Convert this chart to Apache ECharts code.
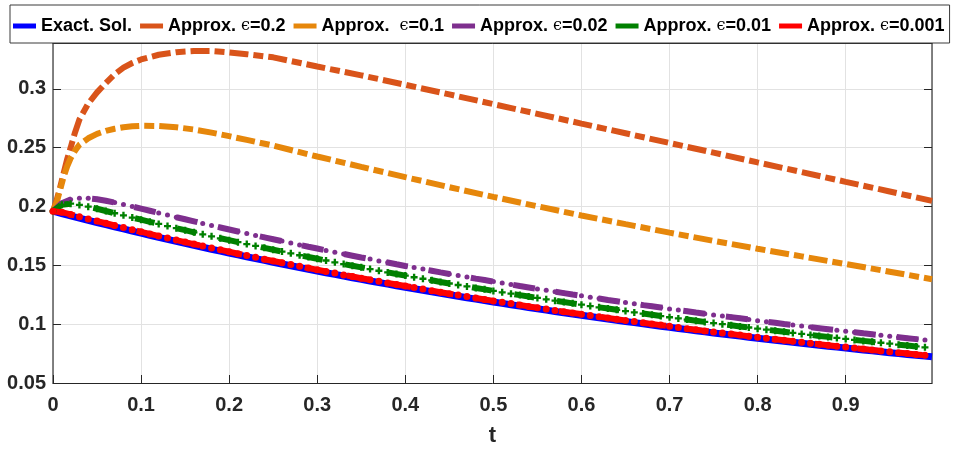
<!DOCTYPE html>
<html>
<head>
<meta charset="utf-8">
<script src="https://cdn.jsdelivr.net/npm/echarts@6/dist/echarts.min.js"></script>
<style>
  html, body { margin: 0; padding: 0; background: #ffffff; }
  #chart { width: 956px; height: 450px; }
</style>
</head>
<body>
<div id="chart"></div>
<script>
// Time grid shared by the exact solution and the small-epsilon approximations
const tGrid = [0,0.01,0.02,0.03,0.04,0.05,0.06,0.07,0.08,0.09,
  0.1,0.11,0.12,0.13,0.14,0.15,0.16,0.17,0.18,0.19,
  0.2,0.21,0.22,0.23,0.24,0.25,0.26,0.27,0.28,0.29,
  0.3,0.31,0.32,0.33,0.34,0.35,0.36,0.37,0.38,0.39,
  0.4,0.41,0.42,0.43,0.44,0.45,0.46,0.47,0.48,0.49,
  0.5,0.51,0.52,0.53,0.54,0.55,0.56,0.57,0.58,0.59,
  0.6,0.61,0.62,0.63,0.64,0.65,0.66,0.67,0.68,0.69,
  0.7,0.71,0.72,0.73,0.74,0.75,0.76,0.77,0.78,0.79,
  0.8,0.81,0.82,0.83,0.84,0.85,0.86,0.87,0.88,0.89,
  0.9,0.91,0.92,0.93,0.94,0.95,0.96,0.97,0.98,0.99,
  0.998];

const exactSol = [0.19600,0.19405,0.19212,0.19021,0.18831,0.18644,0.18459,0.18275,0.18093,0.17913,
  0.17735,0.17558,0.17384,0.17211,0.17039,0.16870,0.16702,0.16536,0.16371,0.16208,
  0.16047,0.15887,0.15729,0.15573,0.15418,0.15264,0.15113,0.14962,0.14813,0.14666,
  0.14520,0.14376,0.14233,0.14091,0.13951,0.13812,0.13674,0.13538,0.13404,0.13270,
  0.13138,0.13008,0.12878,0.12750,0.12623,0.12498,0.12373,0.12250,0.12128,0.12007,
  0.11888,0.11770,0.11653,0.11537,0.11422,0.11308,0.11196,0.11084,0.10974,0.10865,
  0.10757,0.10650,0.10544,0.10439,0.10335,0.10232,0.10130,0.10029,0.09930,0.09831,
  0.09733,0.09636,0.09540,0.09445,0.09351,0.09258,0.09166,0.09075,0.08985,0.08895,
  0.08807,0.08719,0.08632,0.08547,0.08462,0.08377,0.08294,0.08211,0.08130,0.08049,
  0.07969,0.07889,0.07811,0.07733,0.07656,0.07580,0.07505,0.07430,0.07356,0.07283,
  0.07225];

const approxEps002 = [0.1960,0.2027,0.2059,0.2071,0.2070,0.2062,0.2049,0.2034,0.2017,0.2000,
  0.1982,0.1964,0.1946,0.1928,0.1909,0.1892,0.1874,0.1856,0.1839,0.1822,
  0.1805,0.1788,0.1771,0.1754,0.1738,0.1722,0.1706,0.1690,0.1674,0.1658,
  0.1643,0.1627,0.1612,0.1597,0.1582,0.1567,0.1553,0.1538,0.1524,0.1509,
  0.1495,0.1482,0.1468,0.1454,0.1440,0.1427,0.1414,0.1401,0.1387,0.1375,
  0.1362,0.1349,0.1337,0.1324,0.1312,0.1300,0.1288,0.1276,0.1264,0.1252,
  0.1241,0.1229,0.1218,0.1206,0.1195,0.1184,0.1173,0.1162,0.1152,0.1141,
  0.1130,0.1120,0.1110,0.1099,0.1089,0.1079,0.1069,0.1060,0.1050,0.1040,
  0.1030,0.1021,0.1012,0.1002,0.0993,0.0984,0.0975,0.0966,0.0957,0.0948,
  0.0940,0.0931,0.0922,0.0914,0.0906,0.0897,0.0889,0.0881,0.0873,0.0865,
  0.0859];

const approxEps001 = [0.1960,0.2016,0.2024,0.2014,0.1999,0.1981,0.1962,0.1943,0.1925,0.1906,
  0.1888,0.1870,0.1852,0.1834,0.1816,0.1799,0.1781,0.1764,0.1747,0.1730,
  0.1714,0.1697,0.1681,0.1665,0.1649,0.1633,0.1617,0.1602,0.1586,0.1571,
  0.1556,0.1541,0.1526,0.1511,0.1497,0.1483,0.1468,0.1454,0.1440,0.1426,
  0.1413,0.1399,0.1386,0.1373,0.1359,0.1346,0.1333,0.1321,0.1308,0.1296,
  0.1283,0.1271,0.1259,0.1247,0.1235,0.1223,0.1211,0.1200,0.1188,0.1177,
  0.1166,0.1154,0.1143,0.1133,0.1122,0.1111,0.1100,0.1090,0.1080,0.1069,
  0.1059,0.1049,0.1039,0.1029,0.1019,0.1009,0.1000,0.0990,0.0981,0.0972,
  0.0962,0.0953,0.0944,0.0935,0.0926,0.0917,0.0909,0.0900,0.0892,0.0883,
  0.0875,0.0866,0.0858,0.0850,0.0842,0.0834,0.0826,0.0818,0.0811,0.0803,
  0.0797];

const approxEps0001 = [0.1960,0.1952,0.1933,0.1914,0.1895,0.1876,0.1858,0.1839,0.1821,0.1803,
  0.1785,0.1767,0.1750,0.1732,0.1715,0.1698,0.1681,0.1665,0.1648,0.1632,
  0.1616,0.1599,0.1584,0.1568,0.1552,0.1537,0.1522,0.1507,0.1492,0.1477,
  0.1462,0.1448,0.1434,0.1419,0.1405,0.1391,0.1377,0.1364,0.1350,0.1337,
  0.1324,0.1311,0.1298,0.1285,0.1272,0.1259,0.1247,0.1235,0.1222,0.1210,
  0.1198,0.1186,0.1175,0.1163,0.1151,0.1140,0.1129,0.1117,0.1106,0.1095,
  0.1085,0.1074,0.1063,0.1053,0.1042,0.1032,0.1022,0.1012,0.1002,0.0992,
  0.0982,0.0972,0.0962,0.0953,0.0943,0.0934,0.0925,0.0916,0.0907,0.0898,
  0.0889,0.0880,0.0871,0.0863,0.0854,0.0846,0.0837,0.0829,0.0821,0.0813,
  0.0805,0.0797,0.0789,0.0781,0.0773,0.0766,0.0758,0.0751,0.0743,0.0736,
  0.0730];

// Finer sampling near t = 0 for the two large-epsilon approximations
const tLayer = [0,0.004,0.008,0.012,0.016,0.02,0.025,0.03,0.04,0.05,0.06,0.07,0.08,0.09,0.1,
  0.12,0.14,0.16,0.18,0.2,0.22,0.25,0.3,0.35,0.4,0.45,0.5,0.55,0.6,0.65,0.7,0.75,0.8,0.85,0.9,0.95,0.998];

const approxEps02 = [0.196,0.205,0.216,0.228,0.240,0.250,0.263,0.274,0.2875,0.297,0.305,0.3125,0.318,0.322,0.325,
  0.329,0.3312,0.3322,0.3322,0.331,0.3295,0.3268,0.319,0.3115,0.3035,0.2953,0.2870,0.2788,0.2705,0.2623,
  0.2540,0.2458,0.2375,0.2293,0.2210,0.2128,0.2048];

const approxEps01 = [0.196,0.203,0.214,0.225,0.234,0.241,0.2475,0.2525,0.2580,0.2618,0.2643,0.2661,0.2674,0.2682,0.2686,
  0.2684,0.2674,0.2655,0.2628,0.2598,0.2566,0.2518,0.2425,0.2337,0.2250,0.2164,0.2082,0.2002,0.1924,0.1850,
  0.1778,0.1708,0.1641,0.1576,0.1511,0.1446,0.1382];

const seriesNames = ['Exact. Sol.', 'Approx. ϵ=0.2', 'Approx.  ϵ=0.1', 'Approx. ϵ=0.02', 'Approx. ϵ=0.01', 'Approx. ϵ=0.001'];
const xTickValues = [0, 0.1, 0.2, 0.3, 0.4, 0.5, 0.6, 0.7, 0.8, 0.9];
const yTickValues = [0.05, 0.1, 0.15, 0.2, 0.25, 0.3];

const FONT = "'Liberation Sans', Arial, sans-serif";
const tickSize = 20;
const legendSize = 18;
const nameSize = 22;

function pairs(ts, vs, lastWithoutMarker) {
  return ts.map((t, i) => (lastWithoutMarker && i === ts.length - 1)
    ? { value: [t, vs[i]], symbol: 'none' }
    : [t, vs[i]]);
}

const plusPath = 'path://M2,0H4V2H6V4H4V6H2V4H0V2H2Z';
const axisColor = '#262626';

const chart = echarts.init(document.getElementById('chart'), null, { renderer: 'canvas' });

const xMin = xTickValues[0], xMax = tGrid[tGrid.length - 1];
const yMin = yTickValues[0], yMax = 0.339, yStep = 0.05, xStep = 0.1;

const option = {
  animation: false,
  backgroundColor: '#ffffff',
  grid: { left: 53, right: 24, top: 43, bottom: 67, containLabel: false, outerBoundsMode: 'none' },
  legend: {
    data: seriesNames,
    left: 10,
    top: 5,
    orient: 'horizontal',
    padding: [9, 5, 5, 3],
    itemGap: 8,
    itemWidth: 23,
    itemHeight: 5,
    icon: 'rect',
    selectedMode: false,
    backgroundColor: '#ffffff',
    borderColor: '#3a3a3a',
    borderWidth: 1,
    borderRadius: 0,
    itemStyle: { borderWidth: 0 },
    formatter: n => n.replace('ϵ', '{e|ϵ}'),
    textStyle: {
      fontFamily: FONT, fontWeight: 'bold', fontSize: legendSize, color: '#000000', lineHeight: 24,
      rich: {
        e: { fontFamily: "'DejaVu Serif', serif", fontWeight: 'normal', fontSize: 16, color: '#000000', lineHeight: 24 }
      }
    }
  },
  xAxis: [{
    type: 'value',
    min: xMin, max: xMax, interval: xStep,
    name: 't',
    nameLocation: 'middle',
    nameGap: 42,
    nameTextStyle: { fontFamily: FONT, fontWeight: 'bold', fontSize: nameSize, color: axisColor, lineHeight: nameSize },
    axisLine: { show: true, onZero: false, lineStyle: { color: axisColor, width: 1 } },
    axisTick: { show: true, inside: true, length: 8, lineStyle: { color: axisColor, width: 1 } },
    axisLabel: {
      show: true, margin: 12, showMaxLabel: false,
      fontFamily: FONT, fontWeight: 'bold', fontSize: tickSize, color: axisColor, lineHeight: tickSize,
      formatter: v => xTickValues.some(x => Math.abs(x - v) < 1e-9) ? String(+v.toFixed(2)) : ''
    },
    splitLine: { show: true, lineStyle: { color: '#e2e2e2', width: 1 } }
  }, {
    type: 'value', position: 'top',
    min: xMin, max: xMax, interval: xStep,
    axisLine: { show: true, onZero: false, lineStyle: { color: axisColor, width: 1 } },
    axisTick: { show: false }, axisLabel: { show: false }, splitLine: { show: false }
  }],
  yAxis: [{
    type: 'value',
    min: yMin, max: yMax, interval: yStep,
    axisLine: { show: true, onZero: false, lineStyle: { color: '#5a5a5a', width: 1.5 } },
    axisTick: { show: true, inside: true, length: 8, lineStyle: { color: axisColor, width: 1 } },
    axisLabel: {
      show: true, margin: 7, showMaxLabel: false,
      fontFamily: FONT, fontWeight: 'bold', fontSize: tickSize, color: axisColor,
      formatter: v => yTickValues.some(y => Math.abs(y - v) < 1e-9) ? String(+v.toFixed(2)) : ''
    },
    splitLine: { show: true, lineStyle: { color: '#e2e2e2', width: 1 } }
  }, {
    type: 'value', position: 'right',
    min: yMin, max: yMax, interval: yStep,
    axisLine: { show: true, onZero: false, lineStyle: { color: '#5a5a5a', width: 1.5 } },
    axisTick: { show: true, inside: true, length: 8, lineStyle: { color: axisColor, width: 1 } },
    axisLabel: { show: false }, splitLine: { show: false }
  }],
  series: [
    {
      name: seriesNames[0], type: 'line', color: '#0000ff',
      data: pairs(tGrid, exactSol, false),
      symbol: 'none', smooth: false,
      lineStyle: { color: '#0000ff', width: 7 },
      emphasis: { disabled: true }
    },
    {
      name: seriesNames[1], type: 'line', color: '#d9541a',
      data: pairs(tLayer, approxEps02, false),
      symbol: 'none', smooth: false,
      lineStyle: { color: '#d9541a', width: 6, type: [19, 5, 10, 5], cap: 'butt' },
      emphasis: { disabled: true }
    },
    {
      name: seriesNames[2], type: 'line', color: '#e6870b',
      data: pairs(tLayer, approxEps01, false),
      symbol: 'none', smooth: false,
      lineStyle: { color: '#e6870b', width: 6, type: [19, 5, 10, 5], cap: 'butt' },
      emphasis: { disabled: true }
    },
    {
      name: seriesNames[3], type: 'line', color: '#7e2f8e',
      data: pairs(tGrid, approxEps002, true),
      symbol: 'circle', symbolSize: 5, showAllSymbol: true,
      itemStyle: { color: '#7e2f8e', borderWidth: 0 },
      lineStyle: { color: '#7e2f8e', width: 6, type: [22, 21] },
      emphasis: { disabled: true }
    },
    {
      name: seriesNames[4], type: 'line', color: '#008000',
      data: pairs(tGrid, approxEps001, true),
      symbol: plusPath, symbolSize: 7, showAllSymbol: true,
      itemStyle: { color: '#008000', borderWidth: 0 },
      lineStyle: { color: '#008000', width: 6, type: [20, 23] },
      emphasis: { disabled: true }
    },
    {
      name: seriesNames[5], type: 'line', color: '#ff0000',
      data: pairs(tGrid, approxEps0001, true),
      symbol: 'circle', symbolSize: 7, showAllSymbol: true,
      itemStyle: { color: '#ff0000', borderWidth: 0 },
      lineStyle: { color: '#ff0000', width: 6, type: [22, 21] },
      emphasis: { disabled: true }
    }
  ]
};

chart.setOption(option);
</script>
</body>
</html>
